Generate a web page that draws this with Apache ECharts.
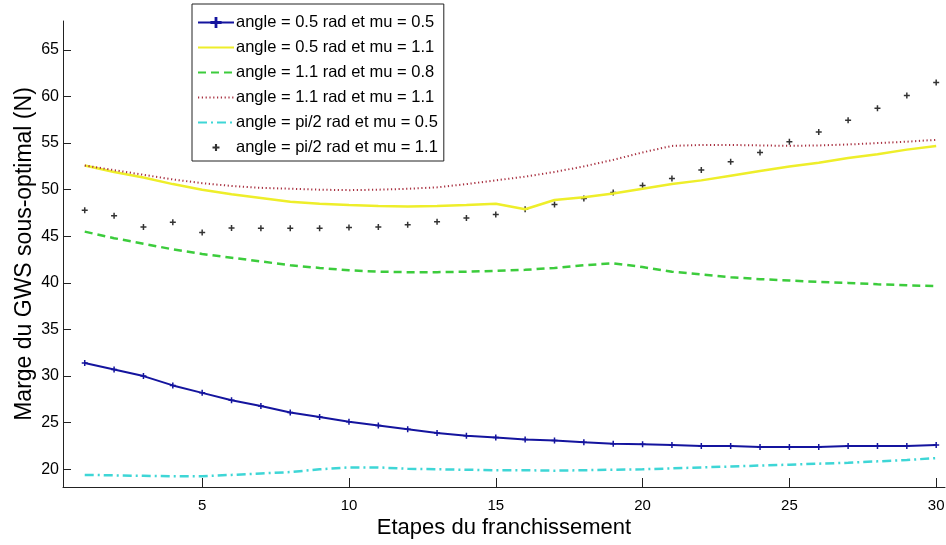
<!DOCTYPE html>
<html>
<head>
<meta charset="utf-8">
<script src="https://cdn.jsdelivr.net/npm/echarts@6/dist/echarts.min.js"></script>
<style>
	html, body { margin: 0; padding: 0; background: #fff; }
	#chart { width: 946px; height: 545px; }
</style>
</head>
<body>
<div id="chart"></div>
<script>
	'use strict';

	/* data */
	var steps = [1, 2, 3, 4, 5, 6, 7, 8, 9, 10, 11, 12, 13, 14, 15, 16, 17, 18, 19, 20, 21, 22, 23, 24, 25, 26, 27, 28, 29, 30];
	var xTicks = [5, 10, 15, 20, 25, 30];
	var yTicks = [20, 25, 30, 35, 40, 45, 50, 55, 60, 65];

	var a05mu05 = [31.4, 30.7, 30.0, 29.0, 28.2, 27.4, 26.8, 26.1, 25.6, 25.1, 24.7, 24.3, 23.9, 23.6, 23.4,
		23.2, 23.1, 22.9, 22.75, 22.7, 22.6, 22.5, 22.5, 22.4, 22.4, 22.4, 22.5, 22.5, 22.5, 22.6];
	var a05mu11 = [52.6, 51.9, 51.3, 50.6, 50.0, 49.5, 49.1, 48.7, 48.5, 48.35, 48.25, 48.2, 48.25, 48.35, 48.5,
		47.9, 48.9, 49.2, 49.6, 50.1, 50.6, 51.0, 51.5, 52.0, 52.5, 52.9, 53.4, 53.8, 54.3, 54.7];
	var a11mu08 = [45.5, 44.8, 44.2, 43.6, 43.1, 42.7, 42.3, 41.9, 41.6, 41.35, 41.2, 41.15, 41.15, 41.2, 41.3,
		41.4, 41.6, 41.9, 42.1, 41.7, 41.2, 40.9, 40.6, 40.4, 40.25, 40.1, 40.0, 39.85, 39.75, 39.65];
	var a11mu11 = [52.6, 52.1, 51.6, 51.1, 50.7, 50.4, 50.2, 50.1, 50.0, 49.95, 50.0, 50.1, 50.25, 50.6, 51.0,
		51.4, 51.9, 52.5, 53.2, 54.0, 54.7, 54.8, 54.8, 54.75, 54.7, 54.75, 54.85, 55.0, 55.15, 55.35];
	var apimu05 = [19.4, 19.35, 19.3, 19.25, 19.25, 19.4, 19.55, 19.7, 20.0, 20.2, 20.2, 20.05, 20.0, 19.95, 19.9,
		19.9, 19.85, 19.9, 19.95, 20.0, 20.1, 20.2, 20.3, 20.4, 20.5, 20.6, 20.7, 20.85, 21.0, 21.2];
	var apimu11 = [47.8, 47.2, 46.0, 46.5, 45.4, 45.9, 45.85, 45.85, 45.85, 45.95, 46.0, 46.25, 46.55, 46.95, 47.35,
		47.9, 48.4, 49.05, 49.7, 50.45, 51.2, 52.1, 53.0, 54.0, 55.15, 56.2, 57.45, 58.75, 60.1, 61.5];

	function pairs(vals) {
		return steps.map(function (s, i) { return [s, vals[i]]; });
	}

	var plus = 'path://M-1,-4H1V-1H4V1H1V4H-1V1H-4V-1H-1Z';
	// same plus, padded so the legend draws it small
	var plusSmall = 'path://M-6,-6h0.01v0.01h-0.01z M6,6h0.01v0.01h-0.01z M-0.9,-3H0.9V-0.9H3V0.9H0.9V3H-0.9V0.9H-3V-0.9H-0.9Z';
	var font = 'Liberation Sans, Arial, Helvetica, sans-serif';
	var noMark = { opacity: 0 };

	var chart = echarts.init(document.getElementById('chart'));

	var option = {
		animation: false,
		backgroundColor: '#fff',
		grid: {
			left: 63,
			right: 1,
			top: 21,
			bottom: 58,
			outerBoundsMode: 'none'
		},
		legend: {
			orient: 'vertical',
			left: 192,
			top: 4,
			padding: [10, 6, 5, 5],
			itemGap: 8,
			itemWidth: 36,
			itemHeight: 14,
			backgroundColor: '#fff',
			borderColor: '#222',
			borderWidth: 1,
			borderRadius: 0,
			textStyle: {
				color: '#000',
				fontSize: 16.5,
				fontFamily: font,
				padding: [0, 0, 0, -3]
			},
			data: [
				{ name: 'angle = 0.5 rad et mu = 0.5' },
				{ name: 'angle = 0.5 rad et mu = 1.1', itemStyle: noMark },
				{ name: 'angle = 1.1 rad et mu = 0.8', itemStyle: noMark },
				{ name: 'angle = 1.1 rad et mu = 1.1', itemStyle: noMark },
				{ name: 'angle = pi/2 rad et mu = 0.5', itemStyle: noMark },
				{ name: 'angle = pi/2 rad et mu = 1.1', icon: plusSmall }
			]
		},
		xAxis: {
			type: 'value',
			min: 0.26,
			max: 30.3,
			name: 'Etapes du franchissement',
			nameLocation: 'middle',
			nameGap: 30,
			nameMoveOverlap: false,
			nameTextStyle: { color: '#000', fontSize: 22, fontFamily: font },
			splitLine: { show: false },
			axisLine: { lineStyle: { color: '#222', width: 1 } },
			axisTick: {
				inside: true,
				length: 9,
				customValues: xTicks,
				lineStyle: { color: '#222' }
			},
			axisLabel: {
				customValues: xTicks,
				color: '#000',
				fontSize: 15,
				fontFamily: font,
				margin: 11
			}
		},
		yAxis: {
			type: 'value',
			min: 18.1,
			max: 68.1,
			name: 'Marge du GWS sous-optimal (N)',
			nameLocation: 'middle',
			nameGap: 27,
			nameMoveOverlap: false,
			nameTextStyle: { color: '#000', fontSize: 23, fontFamily: font },
			splitLine: { show: false },
			axisLine: { lineStyle: { color: '#222', width: 1 } },
			axisTick: {
				inside: true,
				length: 8,
				customValues: yTicks,
				lineStyle: { color: '#222' }
			},
			axisLabel: {
				customValues: yTicks,
				color: '#000',
				fontSize: 16,
				fontFamily: font,
				margin: 4
			}
		},
		series: [
			{
				name: 'angle = 0.5 rad et mu = 0.5',
				type: 'line',
				data: pairs(a05mu05),
				symbol: plus,
				symbolSize: 6,
				itemStyle: { color: '#14149e' },
				lineStyle: { color: '#14149e', width: 2 }
			},
			{
				name: 'angle = 0.5 rad et mu = 1.1',
				type: 'line',
				data: pairs(a05mu11),
				symbol: 'none',
				itemStyle: { color: '#eeee2a' },
				lineStyle: { color: '#eeee2a', width: 2.5 }
			},
			{
				name: 'angle = 1.1 rad et mu = 0.8',
				type: 'line',
				data: pairs(a11mu08),
				symbol: 'none',
				itemStyle: { color: '#3ccc3c' },
				lineStyle: { color: '#3ccc3c', width: 2.5, type: [8, 5] }
			},
			{
				name: 'angle = 1.1 rad et mu = 1.1',
				type: 'line',
				data: pairs(a11mu11),
				symbol: 'none',
				itemStyle: { color: '#a83040' },
				lineStyle: { color: '#a83040', width: 2, type: [1.2, 2.6] }
			},
			{
				name: 'angle = pi/2 rad et mu = 0.5',
				type: 'line',
				data: pairs(apimu05),
				symbol: 'none',
				itemStyle: { color: '#3ed6d6' },
				lineStyle: { color: '#3ed6d6', width: 2.5, type: [9, 4, 2, 4] }
			},
			{
				name: 'angle = pi/2 rad et mu = 1.1',
				type: 'scatter',
				data: pairs(apimu11),
				symbol: plus,
				symbolSize: 6,
				itemStyle: { color: '#000' }
			}
		]
	};
	chart.setOption(option);
</script>
</body>
</html>
